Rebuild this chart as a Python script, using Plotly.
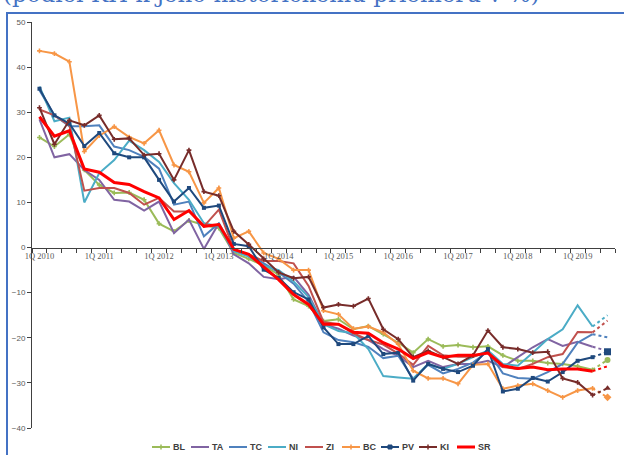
import plotly.graph_objects as go

# ---------------- data ----------------
quarters = [f"{q}Q {y}" for y in range(2010, 2020) for q in range(1, 5)][:39]
tick_labels = ["1Q 2010", "1Q 2011", "1Q 2012", "1Q 2013", "1Q 2014",
               "1Q 2015", "1Q 2016", "1Q 2017", "1Q 2018", "1Q 2019"]
series_names = ["BL", "TA", "TC", "NI", "ZI", "BC", "PV", "KI", "SR"]

BL = [24.4, 22.4, 25.1, 17.2, 13.9, 12.1, 12.2, 10.6, 5.3, 3.6, 6.0, 5.0, 4.3,
      -1.2, -2.5, -4.0, -6.0, -11.5, -13.0, -16.3, -15.9, -18.1, -17.4, -19.2,
      -21.1, -23.3, -20.3, -21.9, -21.6, -22.1, -21.9, -23.9, -25.1, -25.1,
      -25.6, -25.8, -26.3, -27.1]
TA = [28.4, 20.0, 20.7, 17.2, 15.0, 10.6, 10.2, 8.2, 10.2, 3.2, 6.2, -0.3, 5.4,
      -1.5, -3.5, -6.5, -7.0, -6.5, -10.5, -17.0, -18.0, -19.5, -20.5, -22.5,
      -24.0, -26.5, -25.1, -26.5, -25.8, -25.8, -25.1, -26.5, -24.3, -22.1,
      -20.3, -21.8, -20.9, -22.0]
TC = [34.9, 29.3, 26.9, 26.9, 27.1, 22.4, 21.6, 20.1, 17.5, 9.5, 10.2, 2.5, 5.4,
      -0.5, -1.5, -3.5, -5.5, -8.0, -12.0, -18.8, -20.5, -21.0, -22.0, -24.5,
      -24.0, -29.1, -26.0, -27.9, -26.9, -25.5, -23.0, -27.9, -28.9, -29.1,
      -27.6, -25.8, -21.1, -19.2]
NI = [35.7, 28.0, 28.8, 10.0, 16.5, 19.4, 23.7, 21.6, 19.0, 14.3, 10.6, 5.4, 4.7,
      -0.8, -2.0, -4.0, -5.0, -7.5, -11.0, -17.0, -18.5, -19.0, -22.5, -28.5,
      -28.8, -29.1, -25.8, -26.9, -25.8, -24.3, -22.8, -25.8, -26.2, -23.3,
      -20.3, -18.1, -12.8, -17.5]
ZI = [30.6, 29.3, 27.1, 12.6, 13.2, 13.2, 12.1, 9.5, 11.0, 8.0, 8.0, 4.7, 8.4,
      -0.4, -1.5, -3.0, -3.0, -3.5, -8.5, -16.5, -17.0, -19.0, -20.5, -21.5,
      -23.5, -26.0, -21.8, -23.9, -24.2, -24.2, -23.2, -26.5, -26.9, -25.8,
      -24.3, -23.6, -18.7, -18.8]
BC = [43.6, 43.0, 41.2, 21.3, 24.8, 26.8, 24.5, 23.1, 26.0, 18.3, 16.8, 9.9, 13.2,
      2.1, 3.6, -1.2, -2.5, -5.0, -5.0, -14.0, -14.8, -18.0, -17.5, -18.8,
      -21.4, -27.3, -29.0, -29.0, -30.2, -26.0, -25.8, -31.3, -30.6, -30.2,
      -31.7, -33.2, -31.7, -31.2]
PV = [35.2, 29.3, 27.5, 22.5, 25.4, 20.9, 20.0, 20.0, 15.0, 10.2, 13.2, 8.8, 9.3,
      0.8, 0.3, -4.9, -6.7, -9.9, -11.5, -17.7, -21.4, -21.4, -19.6, -23.6,
      -23.3, -29.5, -25.8, -26.9, -27.6, -26.2, -22.5, -31.9, -31.3, -28.9,
      -29.7, -27.6, -25.1, -24.3]
KI = [31.0, 22.9, 28.2, 27.1, 29.3, 24.0, 24.2, 20.5, 20.8, 15.0, 21.6, 12.4, 11.5,
      3.6, 0.7, -2.5, -5.5, -6.8, -6.5, -13.3, -12.6, -13.0, -11.3, -18.1,
      -20.3, -24.3, -22.9, -24.3, -25.8, -23.9, -18.4, -22.1, -22.5, -23.3,
      -23.1, -29.0, -29.9, -32.7]
SR = [29.0, 24.7, 25.9, 17.4, 16.7, 14.4, 14.0, 12.4, 11.0, 6.2, 8.2, 4.7, 5.1,
      -0.4, -1.5, -4.3, -7.1, -10.4, -12.6, -17.0, -17.0, -18.8, -19.0, -21.1,
      -22.5, -24.6, -23.3, -24.3, -23.9, -23.9, -23.4, -26.2, -26.8, -26.5,
      -27.1, -26.9, -26.9, -27.4]

# projection for 3Q 2019 (dotted)
projection = {"BL": -24.9, "TA": -22.9, "TC": -19.9, "NI": -15.0, "ZI": -16.2,
              "BC": -33.2, "PV": -23.1, "KI": -31.2, "SR": -26.3}

values = {"BL": BL, "TA": TA, "TC": TC, "NI": NI, "ZI": ZI,
          "BC": BC, "PV": PV, "KI": KI, "SR": SR}

# ---------------- styles ----------------
colors = {"BL": "#9BBB59", "TA": "#8064A2", "TC": "#4F81BD", "NI": "#4BACC6",
          "ZI": "#C0504D", "BC": "#F79646", "PV": "#1F497D", "KI": "#772C2A",
          "SR": "#FF0000"}
widths = {k: 2 for k in series_names}
widths["SR"] = 3
markers = {"BL": ("cross", 4), "BC": ("cross", 4), "KI": ("cross", 4),
           "PV": ("square", 4)}
end_markers = {"BL": ("circle", 6), "BC": ("diamond", 6),
               "KI": ("triangle-up", 6), "PV": ("square", 7)}

# plot area geometry (pixels)
W, H = 624, 455
L, R, T, B = 32, 9, 22, 27
PW, PH = W - L - R, H - T - B


def xp(px):
    return (px - L) / PW


def yp(py):
    return (H - B - py) / PH


fig = go.Figure()
xs = list(range(len(BL)))
for name in series_names:
    ys = values[name]
    mk = markers.get(name)
    fig.add_trace(go.Scatter(
        x=xs, y=ys, mode="lines+markers" if mk else "lines",
        line=dict(color=colors[name], width=widths[name]),
        marker=dict(symbol=mk[0], size=mk[1], color=colors[name]) if mk else None,
        name=name, showlegend=False, hoverinfo="skip"))
    em = end_markers.get(name)
    fig.add_trace(go.Scatter(
        x=[xs[-1], xs[-1] + 1], y=[ys[-1], projection[name]],
        mode="lines", line=dict(color=colors[name], width=2, dash="dot"),
        showlegend=False, hoverinfo="skip"))
    if em:
        fig.add_trace(go.Scatter(
            x=[xs[-1] + 1], y=[projection[name]], mode="markers",
            marker=dict(symbol=em[0], size=em[1], color=colors[name]),
            showlegend=False, hoverinfo="skip"))

axis_col = "#404040"
fig.update_layout(
    width=W, height=H,
    margin=dict(l=L, r=R, t=T, b=B, pad=0),
    paper_bgcolor="white", plot_bgcolor="white",
    showlegend=False,
    xaxis=dict(
        range=[-0.5, 38.5], anchor="free", position=40 / 90,
        tickmode="array", tickvals=list(range(0, 39, 4)), ticktext=tick_labels,
        ticks="", showline=True, linecolor=axis_col, linewidth=1,
        showgrid=False, zeroline=False,
        tickfont=dict(family="Liberation Serif", size=8.5, color="#595959"),
        minor=dict(tickmode="linear", tick0=-0.5, dtick=1, ticks="outside",
                   ticklen=4, tickcolor=axis_col, showgrid=False),
    ),
    yaxis=dict(
        range=[-40, 50], dtick=10, tick0=0, showline=True, linecolor=axis_col,
        linewidth=1, ticks="outside", ticklen=4, tickcolor=axis_col,
        showgrid=False, zeroline=False,
        tickfont=dict(family="Liberation Sans", size=8, color="#595959"),
    ),
)

# outer blue frame
fig.add_shape(type="rect", xref="paper", yref="paper",
              x0=xp(7), x1=xp(640), y0=yp(470), y1=yp(13),
              line=dict(color="#4472C4", width=2), fillcolor="rgba(0,0,0,0)")

# clipped title at top
fig.add_annotation(text="(podiel KH k jeho historickému priemeru v %)",
                   xref="paper", yref="paper", x=xp(1), y=yp(9),
                   xanchor="left", yanchor="bottom", showarrow=False,
                   font=dict(family="DejaVu Serif", size=23, color="#4472C4"))

# custom legend
leg_x = [152, 191, 229, 268, 305, 342, 381, 419, 457]
leg_y = 447
for name, lx in zip(series_names, leg_x):
    fig.add_shape(type="line", xref="paper", yref="paper",
                  x0=xp(lx), x1=xp(lx + 18), y0=yp(leg_y), y1=yp(leg_y),
                  line=dict(color=colors[name], width=widths[name]))
    mk = markers.get(name)
    cx = lx + 9
    if mk and mk[0] == "square":
        fig.add_shape(type="rect", xref="paper", yref="paper",
                      x0=xp(cx - 2), x1=xp(cx + 2), y0=yp(leg_y + 2), y1=yp(leg_y - 2),
                      line=dict(color=colors[name], width=1), fillcolor=colors[name])
    elif mk:
        fig.add_shape(type="line", xref="paper", yref="paper",
                      x0=xp(cx), x1=xp(cx), y0=yp(leg_y + 2.5), y1=yp(leg_y - 2.5),
                      line=dict(color=colors[name], width=1.5))
    fig.add_annotation(text=f"<b>{name}</b>", xref="paper", yref="paper",
                       x=xp(lx + 19), y=yp(leg_y), xanchor="left", yanchor="middle",
                       showarrow=False,
                       font=dict(family="Liberation Sans", size=9, color="#404040"))

fig.write_html("out.html",
               config={"displayModeBar": False, "staticPlot": True},
               post_script="document.body.style.margin='0';"
                           "document.body.style.overflow='hidden';")
